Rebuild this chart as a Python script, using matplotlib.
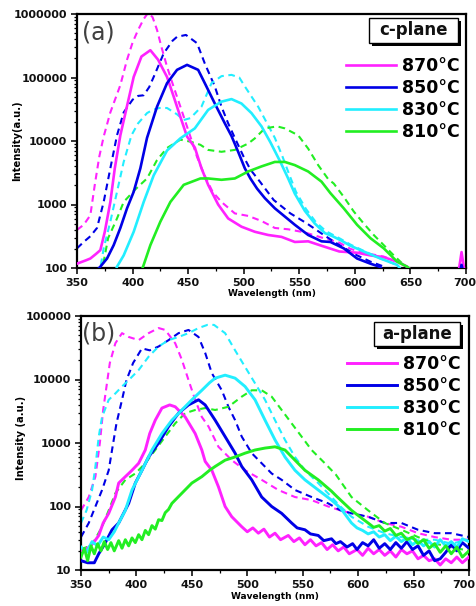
import matplotlib
matplotlib.use('Agg')
import matplotlib.pyplot as plt
from matplotlib.ticker import MultipleLocator, LogLocator, FuncFormatter, NullFormatter
from matplotlib.patches import Rectangle
from matplotlib.transforms import ScaledTranslation

# ---------------- data: (a) c-plane ----------------
c870_wl = [350, 358, 362, 367, 371, 375, 380, 384, 389, 395, 401, 408, 416, 423, 431, 437, 443, 449, 456, 462, 468, 477, 486, 498, 510, 522, 534, 546, 558, 570, 586, 602, 614, 626, 638, 647, 655, 693, 696, 699]
c870_I = [117, 132, 141, 166, 191, 372, 1096, 3715, 12300, 35500, 102000, 214000, 269000, 190000, 102000, 50000, 24000, 11750, 7900, 3715, 2040, 1000, 603, 447, 372, 331, 309, 257, 263, 224, 182, 174, 158, 148, 126, 105, 80, 80, 178, 80]
c870d_wl = [350, 356, 362, 366, 370, 374, 380, 389, 395, 400, 405, 410, 414, 418, 422, 426, 431, 437, 443, 452, 458, 465, 472, 480, 492, 504, 516, 528, 540, 555, 570, 586, 596, 606, 614, 626, 638, 647, 655]
c870d_I = [398, 479, 676, 2040, 5620, 11750, 28200, 75900, 190000, 355000, 562000, 832000, 1050000, 891000, 562000, 302000, 148000, 70800, 34700, 11750, 5620, 2820, 1585, 1096, 724, 661, 550, 427, 407, 363, 302, 251, 200, 178, 166, 151, 126, 105, 80]
c850_wl = [367, 371, 377, 383, 389, 395, 401, 407, 413, 422, 431, 440, 449, 459, 465, 474, 483, 489, 495, 501, 506, 512, 519, 528, 537, 546, 558, 570, 578, 590, 602, 614, 622, 630, 694, 696, 698]
c850_I = [89, 105, 141, 229, 427, 871, 1585, 3715, 11200, 34700, 81300, 132000, 158000, 132000, 81300, 38900, 19000, 12000, 6760, 3715, 2570, 1780, 1260, 871, 646, 479, 331, 263, 257, 204, 141, 117, 105, 80, 80, 112, 80]
c850d_wl = [350, 356, 362, 368, 374, 380, 386, 392, 400, 405, 410, 415, 420, 428, 436, 440, 448, 458, 465, 474, 480, 486, 492, 500, 506, 515, 527, 542, 557, 572, 587, 602, 614, 625, 632]
c850d_I = [204, 257, 316, 427, 1096, 3715, 12300, 28200, 44700, 51300, 52500, 70800, 112000, 240000, 380000, 437000, 468000, 347000, 166000, 72400, 34700, 19000, 11200, 5620, 3550, 2240, 1175, 724, 501, 331, 224, 158, 126, 107, 80]
c830_wl = [384, 386, 392, 401, 410, 419, 431, 443, 456, 468, 480, 489, 498, 507, 516, 524, 533, 540, 546, 555, 564, 573, 580, 587, 596, 608, 623, 638, 645]
c830_I = [80, 105, 158, 372, 1096, 2880, 7080, 11000, 15800, 30900, 41700, 45700, 38900, 27500, 17000, 9550, 4680, 2570, 1480, 794, 501, 355, 316, 275, 224, 182, 141, 112, 80]
c830d_wl = [366, 371, 374, 380, 386, 392, 399, 405, 413, 418, 424, 431, 440, 446, 452, 462, 471, 480, 489, 496, 501, 513, 521, 528, 535, 541, 547, 556, 565, 574, 587, 596, 608, 623, 638, 645]
c830d_I = [80, 100, 204, 537, 1585, 4680, 12300, 19000, 27500, 30900, 33100, 33100, 26300, 21400, 22900, 34700, 81300, 105000, 110000, 100000, 72400, 34700, 19000, 11200, 5620, 2950, 1585, 851, 525, 380, 288, 234, 186, 141, 112, 80]
c810_wl = [407, 410, 416, 425, 434, 446, 461, 468, 480, 492, 504, 516, 528, 537, 546, 558, 570, 578, 590, 602, 614, 626, 638, 647, 655]
c810_I = [80, 112, 229, 537, 1096, 2040, 2570, 2570, 2450, 2570, 3310, 3980, 4680, 4680, 4170, 3310, 2290, 1510, 871, 479, 295, 204, 126, 105, 80]
c810d_wl = [371, 374, 378, 386, 392, 402, 413, 422, 431, 443, 452, 461, 468, 480, 492, 504, 510, 519, 530, 537, 549, 558, 567, 576, 581, 590, 599, 608, 617, 626, 635, 644, 650]
c810d_I = [80, 126, 295, 603, 1096, 1700, 2570, 5010, 7760, 10500, 9770, 8710, 7240, 6760, 7240, 9120, 11000, 15800, 17000, 15800, 12300, 7590, 4170, 2510, 2140, 1320, 776, 501, 331, 229, 158, 112, 80]

# ---------------- data: (b) a-plane (noisy tails read as a jagged trace) ----------------
a870_wl = [350, 356, 362, 366, 370, 375, 381, 384, 390, 396, 402, 408, 412, 417, 423, 430, 435, 444, 453, 459, 462, 468, 474, 480, 486, 495, 500, 505, 510, 515, 520, 525, 530, 537, 542, 547, 552, 557, 562, 567, 572, 577, 582, 587, 592, 599, 604, 609, 614, 619, 624, 629, 634, 639, 644, 649, 654, 659, 664, 669, 674, 679, 684, 689, 694, 700]
a870_I = [20, 22, 28, 35, 55, 78, 141, 234, 295, 372, 479, 776, 1410, 2290, 3550, 3980, 3720, 2570, 1410, 776, 513, 372, 204, 100, 69, 48, 40, 46, 38, 44, 33, 38, 30, 35, 28, 32, 25, 30, 24, 27, 21, 25, 20, 23, 18, 21, 17, 22, 18, 21, 17, 20, 16, 21, 18, 20, 15, 17, 14, 15, 12, 15, 13, 16, 13, 16]
a870d_wl = [350, 357, 363, 367, 370, 373, 376, 381, 387, 393, 402, 411, 420, 426, 435, 441, 447, 453, 459, 465, 474, 486, 498, 513, 528, 543, 558, 573, 584, 594, 609, 624, 639, 654, 669, 684, 700]
a870d_I = [87, 141, 295, 1000, 3310, 7760, 18200, 37200, 53700, 46800, 41700, 53700, 64600, 60300, 37200, 20400, 9770, 4790, 2570, 1820, 871, 537, 372, 263, 182, 141, 126, 100, 87, 78, 69, 55, 48, 38, 33, 30, 30]
a850_wl = [350, 356, 362, 366, 371, 378, 384, 393, 399, 405, 411, 420, 429, 438, 447, 456, 462, 471, 480, 489, 495, 504, 513, 522, 531, 540, 545, 552, 557, 564, 569, 576, 580, 584, 590, 595, 599, 604, 609, 614, 619, 624, 629, 634, 639, 644, 649, 654, 659, 664, 669, 674, 679, 684, 689, 694, 700]
a850_I = [14, 13, 13, 18, 25, 43, 55, 112, 234, 372, 603, 1000, 1820, 2950, 3980, 4790, 3980, 2290, 1260, 692, 427, 263, 141, 100, 78, 55, 46, 43, 37, 35, 29, 31, 26, 28, 23, 26, 21, 27, 24, 30, 22, 26, 21, 27, 22, 28, 21, 24, 17, 20, 14, 15, 19, 25, 20, 27, 22]
a850d_wl = [350, 357, 363, 369, 375, 378, 382, 387, 391, 397, 405, 412, 420, 429, 438, 447, 456, 462, 468, 477, 483, 489, 495, 504, 513, 522, 531, 543, 558, 573, 584, 594, 609, 624, 639, 654, 669, 684, 700]
a850d_I = [33, 55, 100, 182, 372, 776, 2040, 4790, 9770, 18200, 30900, 28800, 33100, 41700, 53700, 60300, 46800, 26300, 12600, 6760, 3720, 2290, 1260, 692, 479, 331, 263, 182, 141, 112, 87, 78, 69, 55, 55, 43, 38, 38, 33]
a830_wl = [350, 355, 360, 365, 370, 375, 380, 384, 390, 396, 405, 414, 423, 432, 441, 450, 459, 466, 471, 480, 489, 498, 507, 516, 525, 534, 543, 552, 564, 576, 584, 594, 599, 604, 609, 614, 619, 624, 629, 634, 639, 644, 649, 654, 659, 664, 669, 674, 679, 684, 689, 694, 700]
a830_I = [23, 19, 28, 24, 33, 30, 40, 55, 87, 182, 372, 776, 1410, 2290, 3310, 4790, 6760, 8910, 10500, 11700, 10500, 7760, 4790, 2290, 1120, 603, 372, 263, 182, 126, 95, 55, 46, 42, 37, 40, 33, 36, 29, 34, 28, 32, 25, 29, 24, 28, 23, 30, 24, 28, 23, 31, 28]
a830d_wl = [350, 355, 360, 363, 366, 369, 375, 381, 387, 393, 402, 411, 420, 429, 438, 447, 456, 464, 470, 480, 489, 498, 507, 516, 525, 534, 543, 552, 564, 576, 584, 594, 609, 624, 639, 654, 669, 684, 700]
a830d_I = [55, 87, 182, 427, 1260, 2570, 4790, 6030, 7760, 9770, 14100, 22900, 33100, 41700, 46800, 53700, 64600, 72400, 72400, 53700, 28800, 15800, 8710, 4790, 2290, 1120, 603, 372, 234, 141, 100, 69, 48, 38, 33, 30, 30, 26, 30]
a810_wl = [350, 353, 356, 359, 362, 365, 368, 371, 374, 377, 380, 384, 387, 390, 393, 396, 399, 402, 405, 408, 411, 414, 417, 420, 423, 426, 429, 432, 441, 450, 459, 466, 471, 480, 489, 498, 507, 516, 525, 534, 543, 552, 564, 576, 580, 594, 604, 609, 614, 619, 624, 629, 634, 639, 644, 649, 654, 659, 664, 669, 674, 679, 684, 689, 694, 700]
a810_I = [16, 22, 14, 24, 18, 26, 20, 28, 21, 27, 20, 29, 22, 30, 24, 32, 27, 36, 30, 42, 36, 50, 44, 62, 60, 80, 90, 112, 162, 234, 295, 372, 427, 537, 603, 692, 776, 832, 871, 776, 537, 372, 263, 174, 148, 87, 64, 55, 47, 50, 41, 45, 35, 38, 30, 33, 26, 30, 22, 26, 19, 24, 18, 23, 16, 20]
a810d_wl = [350, 360, 369, 375, 381, 390, 399, 408, 417, 426, 435, 444, 453, 462, 471, 483, 495, 504, 513, 522, 531, 540, 549, 558, 570, 580, 594, 609, 624, 639, 654, 669, 684, 700]
a810d_I = [21, 25, 48, 87, 162, 263, 331, 479, 776, 1260, 2040, 2950, 3310, 3550, 3310, 3720, 5370, 6760, 6760, 5370, 3310, 2040, 1260, 776, 479, 316, 141, 87, 55, 43, 33, 26, 23, 20]

temps = ['870°C', '850°C', '830°C', '810°C']
colors = ['#ff22ff', '#0000e6', '#22eeff', '#22ee22']
xticks = [350, 400, 450, 500, 550, 600, 650, 700]

c_series = [(c870_wl, c870_I, c870d_wl, c870d_I), (c850_wl, c850_I, c850d_wl, c850d_I),
            (c830_wl, c830_I, c830d_wl, c830d_I), (c810_wl, c810_I, c810d_wl, c810d_I)]
a_series = [(a870_wl, a870_I, a870d_wl, a870d_I), (a850_wl, a850_I, a850d_wl, a850d_I),
            (a830_wl, a830_I, a830d_wl, a830d_I), (a810_wl, a810_I, a810d_wl, a810d_I)]

plt.rcParams['font.family'] = ['DejaVu Sans']
plt.rcParams['font.weight'] = 'bold'

W, H = 477, 606
fig = plt.figure(figsize=(W / 100, H / 100), dpi=100)
ax1 = fig.add_axes([77 / W, 1 - 268 / H, 389 / W, 254 / H])
ax2 = fig.add_axes([81 / W, 1 - 570 / H, 388 / W, 254 / H])


def style(ax, ylim, ylabel, ylab_xy, xlab_y, last_shift):
    ax.set_yscale('log')
    ax.set_xlim(350, 700)
    ax.set_ylim(*ylim)
    ax.set_xticks(xticks)
    ax.xaxis.set_minor_locator(MultipleLocator(25))
    ax.yaxis.set_major_locator(LogLocator(base=10))
    ax.yaxis.set_minor_locator(LogLocator(base=10, subs=range(2, 10)))
    ax.yaxis.set_minor_formatter(NullFormatter())
    ax.yaxis.set_major_formatter(FuncFormatter(lambda v, p: f'{int(round(v))}'))
    ax.tick_params(which='major', direction='out', length=4.5, width=1.2, labelsize=8, pad=2.5, colors='#111111')
    ax.tick_params(which='minor', direction='out', length=2.5, width=0.9)
    for s in ax.spines.values():
        s.set_linewidth(1.6)
        s.set_color('black')
    labels = ax.get_xticklabels()
    for lbl in labels + ax.get_yticklabels():
        lbl.set_fontweight('bold')
    labels[-1].set_transform(labels[-1].get_transform() + ScaledTranslation(-last_shift / 100, 0, fig.dpi_scale_trans))
    ax.set_xlabel('Wavelength (nm)', fontsize=6.5, fontweight='bold', va='center')
    ax.xaxis.set_label_coords(0.5, xlab_y)
    ax.set_ylabel(ylabel, fontsize=7.2, fontweight='bold', va='center')
    ax.yaxis.set_label_coords(*ylab_xy)


def draw(ax, series, lw_solid):
    handles = []
    for (wl, I, wld, Id), col in zip(series, colors):
        ax.plot(wld, Id, color=col, lw=1.5, dashes=(3.2, 2.2), zorder=2)
        h, = ax.plot(wl, I, color=col, lw=lw_solid, zorder=3)
        handles.append(h)
    return handles


def box(ax, x0, y0, w, h, text, dxy):
    ax.add_patch(Rectangle((x0 + dxy[0], y0 - dxy[1]), w, h, transform=ax.transAxes,
                           fc='black', ec='black', lw=0, zorder=5, clip_on=False))
    ax.add_patch(Rectangle((x0, y0), w, h, transform=ax.transAxes,
                           fc='white', ec='black', lw=1.0, zorder=6, clip_on=False))
    ax.text(x0 + w / 2, y0 + h / 2, text, transform=ax.transAxes, ha='center', va='center',
            fontsize=12, fontweight='bold', zorder=7, color='#111111')


h1 = draw(ax1, c_series, 1.9)
style(ax1, (100, 1e6), 'Intensity(a.u.)', (-0.154, 0.5), -0.102, 1.5)
ax1.legend(h1, temps, loc='upper left', bbox_to_anchor=(0.6915, 0.8295), frameon=False,
           borderpad=0, borderaxespad=0, handlelength=2.9, handletextpad=0.35, labelspacing=0.22,
           prop=dict(family='DejaVu Sans', weight='bold', size=12.5))
box(ax1, 0.7506, 0.8858, 0.2288, 0.0985, 'c-plane', (3 / 389, 3 / 254))
ax1.text(0.055, 0.929, '(a)', transform=ax1.transAxes, ha='center', va='center',
         fontsize=17, fontweight='normal', color='#404040')

h2 = draw(ax2, a_series, 2.1)
style(ax2, (10, 1e5), 'Intensity (a.u.)', (-0.155, 0.52), -0.106, 5)
ax2.legend(h2, temps, loc='upper left', bbox_to_anchor=(0.6856, 0.8453), frameon=False,
           borderpad=0, borderaxespad=0, handlelength=2.9, handletextpad=0.35, labelspacing=0.22,
           prop=dict(family='DejaVu Sans', weight='bold', size=12.5))
box(ax2, 0.7552, 0.8819, 0.2216, 0.0945, 'a-plane', (3 / 388, 3 / 254))
ax2.text(0.045, 0.933, '(b)', transform=ax2.transAxes, ha='center', va='center',
         fontsize=17, fontweight='normal', color='#404040')

fig.savefig('out.png', dpi=100)
